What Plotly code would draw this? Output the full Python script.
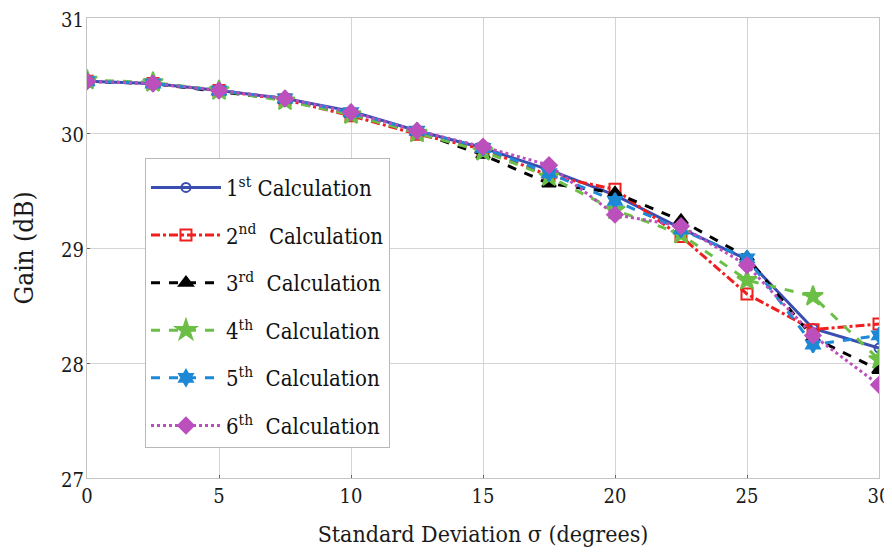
import plotly.graph_objects as go

sigma = [0, 2.5, 5, 7.5, 10, 12.5, 15, 17.5, 20, 22.5, 25, 27.5, 30]

calc1 = [30.45, 30.43, 30.37, 30.30, 30.19, 30.02, 29.87, 29.68, 29.46, 29.17, 28.90, 28.30, 28.13]
calc2 = [30.45, 30.43, 30.37, 30.29, 30.15, 29.99, 29.86, 29.63, 29.51, 29.10, 28.60, 28.29, 28.34]
calc3 = [30.45, 30.43, 30.36, 30.29, 30.17, 30.01, 29.81, 29.56, 29.48, 29.24, 28.92, 28.22, 27.94]
calc4 = [30.46, 30.44, 30.37, 30.28, 30.16, 30.00, 29.84, 29.62, 29.33, 29.12, 28.72, 28.58, 28.03]
calc5 = [30.45, 30.43, 30.37, 30.30, 30.18, 30.02, 29.87, 29.65, 29.41, 29.16, 28.91, 28.16, 28.24]
calc6 = [30.45, 30.43, 30.37, 30.30, 30.18, 30.02, 29.88, 29.72, 29.29, 29.19, 28.85, 28.24, 27.81]

names = [
    "1<sup>st</sup> Calculation",
    "2<sup>nd</sup>\u00a0 Calculation",
    "3<sup>rd</sup>\u00a0 Calculation",
    "4<sup>th</sup>\u00a0 Calculation",
    "5<sup>th</sup>\u00a0 Calculation",
    "6<sup>th</sup>\u00a0 Calculation",
]

x_ticks = [0, 5, 10, 15, 20, 25, 30]
y_ticks = [27, 28, 29, 30, 31]

series = [calc1, calc2, calc3, calc4, calc5, calc6]
colors = ["#3a4db0", "#f01e1e", "#000000", "#6cbf46", "#1c88d6", "#bb50bd"]
dashes = ["solid", "dashdot", "dash", "dash", "dash", "dot"]
symbols = ["circle-open", "square-open", "triangle-up", "star", "hexagram", "diamond"]
sizes = [9, 11, 12, 15, 12, 12]

SERIF = "'DejaVu Serif Condensed', 'DejaVu Serif', serif"

fig = go.Figure()
for i, (ys, nm) in enumerate(zip(series, names)):
    fig.add_trace(go.Scatter(
        x=sigma, y=ys, name=nm, mode="lines+markers",
        legendgroup=f"g{i}",
        line=dict(color=colors[i], width=3, dash=dashes[i]),
        marker=dict(symbol=symbols[i], size=sizes[i], color=colors[i],
                    line=dict(color=colors[i], width=2)),
    ))

fig.update_layout(
    width=884, height=550,
    margin=dict(l=79, r=13, t=10, b=80),
    paper_bgcolor="white", plot_bgcolor="white",
    font=dict(family=SERIF, color="#1a1a1a"),
    showlegend=True,
    legend=dict(
        x=0.0732, y=0.696, xanchor="left", yanchor="top",
        bgcolor="white", bordercolor="#b8b8b8", borderwidth=1,
        font=dict(family=SERIF, size=22, color="#111"),
        title=dict(text=" ", font=dict(size=6)),
        tracegroupgap=16, itemwidth=70,
    ),
)
fig.update_xaxes(
    range=[0, 30], tickvals=x_ticks, ticktext=[str(v) for v in x_ticks],
    showgrid=True, gridcolor="#d4d4d4", gridwidth=1,
    showline=True, linecolor="#c4c4c4", linewidth=1, mirror=True,
    ticks="inside", ticklen=3, tickcolor="#666", ticklabeloverflow="allow",
    tickfont=dict(family=SERIF, size=20), zeroline=False, automargin=False,
    title=dict(text="Standard Deviation σ (degrees)", font=dict(family=SERIF, size=23), standoff=18),
)
fig.update_yaxes(
    range=[27, 31], tickvals=y_ticks, ticktext=[str(v) for v in y_ticks],
    showgrid=True, gridcolor="#d4d4d4", gridwidth=1,
    showline=True, linecolor="#c4c4c4", linewidth=1, mirror=True,
    ticks="inside", ticklen=3, tickcolor="#666", ticklabeloverflow="allow",
    ticklabelshift=2, ticklabelstandoff=-2,
    tickfont=dict(family=SERIF, size=20), zeroline=False, automargin=False,
    title=dict(text="Gain (dB)", font=dict(family=SERIF, size=26), standoff=20),
)

fig.write_html("out.html")
